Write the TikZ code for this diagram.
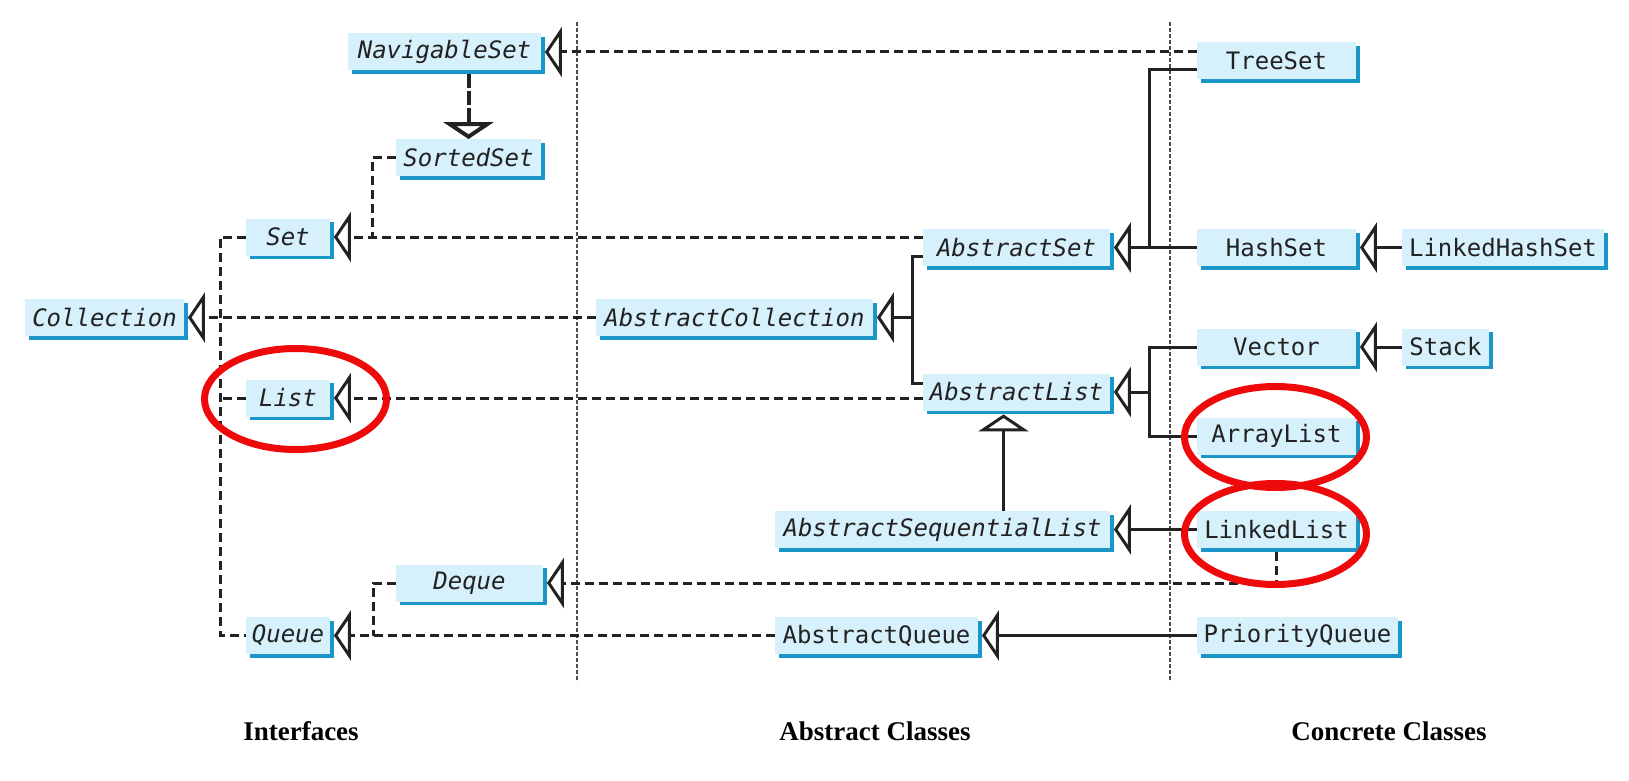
\documentclass[tikz,border=0pt]{standalone}
\usepackage{fontspec}
\setmainfont{Liberation Serif}
\newfontfamily\classfont{DejaVu Sans Mono}
\usetikzlibrary{arrows.meta,shadows}
\definecolor{boxfill}{HTML}{D6F0FC}
\definecolor{boxedge}{HTML}{1A96C8}
\definecolor{inkgray}{HTML}{222222}
\definecolor{ringred}{HTML}{EE0A0A}
\begin{document}
\begin{tikzpicture}[x=0.5pt, y=-0.5pt,
  cls/.style={fill=boxfill, inner sep=0pt, minimum height=18.5pt, text=inkgray,
    font=\classfont\fontsize{12}{14}\selectfont,
    general shadow={fill=boxedge, shadow xshift=1.75pt, shadow yshift=-1.75pt}},
  iface/.style={cls, font=\classfont\itshape\fontsize{12}{14}\selectfont},
  conn/.style={line width=1.5pt, draw=inkgray, line join=miter},
  dashline/.style={conn, dash pattern=on 4.5pt off 2.5pt},
  solidline/.style={conn},
  opentri/.style={-{Triangle[length=8.5pt, width=25pt, fill=white]}},
  sepline/.style={line width=0.6pt, draw=black!70, dash pattern=on 2pt off 1pt},
  ring/.style={line width=3.5pt, draw=ringred},
  lab/.style={inner sep=0pt, anchor=base, font=\bfseries\fontsize{13.5}{16}\selectfont}]
\useasboundingbox (0,0) rectangle (1629,781);

% column separators
\draw[sepline] (577,22) -- (577,682);
\draw[sepline] (1170,22) -- (1170,682);

% interfaces
\node[iface, minimum width=96.5pt] (navset) at (444.5,52) {NavigableSet};
\node[iface, minimum width=72.5pt] (sortedset) at (468.5,158) {SortedSet};
\node[iface, minimum width=42pt] (set) at (288,237) {Set};
\node[iface, minimum width=79.5pt] (collection) at (104.5,317.5) {Collection};
\node[iface, minimum width=42pt] (list) at (288,398) {List};
\node[iface, minimum width=73.5pt] (deque) at (469.5,583) {Deque};
\node[iface, minimum width=42pt] (queue) at (288,635.5) {Queue};

% abstract classes
\node[iface, minimum width=138.5pt] (abscoll) at (734.5,317.5) {AbstractCollection};
\node[iface, minimum width=93.5pt] (absset) at (1016.5,247.5) {AbstractSet};
\node[iface, minimum width=93.5pt] (abslist) at (1016.5,392) {AbstractList};
\node[iface, minimum width=167.5pt] (asl) at (942.5,529.5) {AbstractSequentialList};
\node[cls, minimum width=101.5pt] (absqueue) at (876.5,635.5) {AbstractQueue};

% concrete classes
\node[cls, minimum width=79.5pt] (treeset) at (1276.5,61) {TreeSet};
\node[cls, minimum width=79.5pt] (hashset) at (1276.5,247.5) {HashSet};
\node[cls, minimum width=101pt] (lhs) at (1503,247.5) {LinkedHashSet};
\node[cls, minimum width=79.5pt] (vector) at (1276.5,347) {Vector};
\node[cls, minimum width=43.5pt] (stack) at (1445.5,347) {Stack};
\node[cls, minimum width=79.5pt] (arraylist) at (1276.5,436) {ArrayList};
\node[cls, minimum width=79.5pt] (linkedlist) at (1276.5,529.5) {LinkedList};
\node[cls, minimum width=100.5pt] (pq) at (1297.5,635.5) {PriorityQueue};

% junction points
\coordinate (navbot) at ([yshift=-1.75pt]navset.south);
\coordinate (sjoin) at (372,237);
\coordinate (trunk) at (220,237);
\coordinate (qjoin) at (373,635.5);
\coordinate (cjoin) at (912,317.5);
\coordinate (aslup) at ([xshift=30.5pt]asl.north);
\coordinate (alb) at ([yshift=-1.75pt]abslist.south);
\coordinate (hjoin) at (1149,247.5);
\coordinate (ljoin) at (1149,392);

% interface hierarchy (dashed)
\draw[dashline, opentri] (treeset.west |- navset.east) -- ([xshift=1.75pt]navset.east);
\draw[dashline, dash pattern=on 7pt off 1.5pt, line width=2pt, opentri] (navbot -| sortedset.north) -- (sortedset.north);
\draw[dashline] (sortedset.west) -| (sjoin);
\draw[dashline, opentri] (absset.west |- set.east) -- ([xshift=1.75pt]set.east);
\draw[dashline] (set.west) -- (trunk) |- (queue.west);
\draw[dashline] (list.west) -- (trunk |- list.west);
\draw[dashline, opentri] (abscoll.west) -- ([xshift=1.75pt]collection.east);
\draw[dashline, opentri] (abslist.west |- list.east) -- ([xshift=1.75pt]list.east);
\draw[dashline] (deque.west) -| (qjoin);
\draw[dashline, opentri] (absqueue.west) -- ([xshift=1.75pt]queue.east);
\draw[dashline, opentri] ([yshift=-1.75pt]linkedlist.south) |- ([xshift=1.75pt]deque.east);

% class hierarchy (solid)
\draw[solidline] ([yshift=-4.5pt]absset.west) -| (cjoin) |- ([yshift=4.5pt]abslist.west);
\draw[solidline, opentri] (cjoin) -- ([xshift=1.75pt]abscoll.east);
\draw[solidline, opentri] (aslup) -- (aslup |- alb);
\draw[solidline] ([yshift=-4.5pt]treeset.west) -| (hjoin);
\draw[solidline, opentri] (hashset.west) -- ([xshift=1.75pt]absset.east);
\draw[solidline, opentri] (lhs.west) -- ([xshift=1.75pt]hashset.east);
\draw[solidline] (vector.west) -| (ljoin) |- (arraylist.west);
\draw[solidline, opentri] (ljoin) -- ([xshift=1.75pt]abslist.east);
\draw[solidline, opentri] (stack.west) -- ([xshift=1.75pt]vector.east);
\draw[solidline, opentri] (linkedlist.west) -- ([xshift=1.75pt]asl.east);
\draw[solidline, opentri] (pq.west) -- ([xshift=1.75pt]absqueue.east);

% highlight rings
\draw[ring] (295.5,399) ellipse [x radius=91, y radius=50.5];
\draw[ring] (1275.5,437) ellipse [x radius=91, y radius=50.5];
\draw[ring] (1275.5,534) ellipse [x radius=91, y radius=50.5];

% column headings
\node[lab] (hint) at (301,740) {Interfaces};
\node[lab] (habs) at (875,740) {Abstract Classes};
\node[lab] (hcon) at (1389,740) {Concrete Classes};
\end{tikzpicture}
\end{document}
